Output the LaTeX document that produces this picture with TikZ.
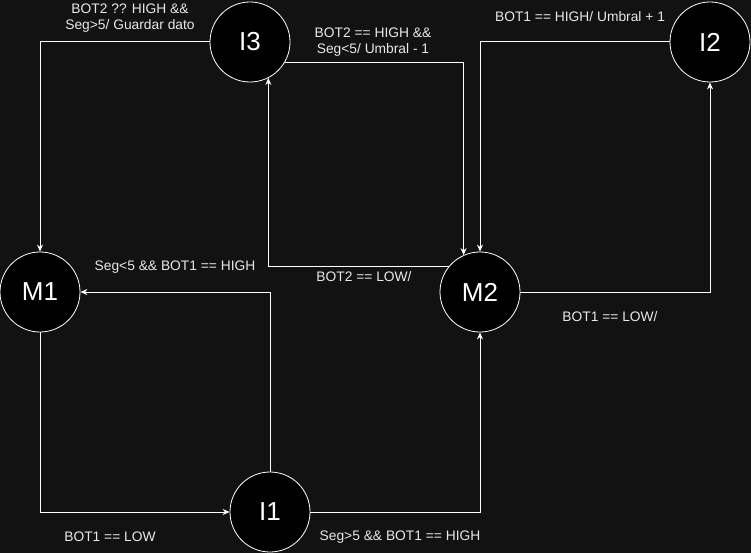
\documentclass[tikz,border=0pt]{standalone}
\usepackage{fontspec}
\setmainfont{Liberation Sans}
\usepackage{xcolor}
\usetikzlibrary{arrows.meta}

\definecolor{canvas}{RGB}{18,18,18}
\definecolor{labelgray}{RGB}{232,232,232}

\begin{document}
\begin{tikzpicture}[x=1pt, y=-1pt,
  state/.style={circle, draw=white, line width=0.8pt, fill=black,
    minimum size=80pt, inner sep=0pt, text=white,
    font=\fontsize{26}{30}\selectfont},
  %
  cond/.style={text=labelgray, align=center, inner sep=0pt,
    font=\fontsize{13.8}{16}\selectfont},
  %
  trans/.style={draw=white, line width=1pt, -{Stealth[length=7pt, width=6pt]}}
  ]

  % background and page size
  \fill [canvas] (0,0) rectangle (751,553);
  \useasboundingbox (0,0) rectangle (751,553);

  \begin{scope}
    \node [state] (I3) at (250,42) {I3};
    \node [state] (I2) at (710,42) {I2};
    \node [state] (M1) at (40,292) {M1};
    \node [state] (M2) at (480,292) {M2};
    \node [state] (I1) at (270,512) {I1};
  \end{scope}

  \begin{scope}
    \draw [trans] (I3.west) -| (M1.north);
    \draw [trans] (I3.-30) -| (M2.114);
    \draw [trans] (I2.west) -| (M2.north);
    \draw [trans] (M2.141) -| (I3.-63);
    \draw [trans] (M2.east) -| (I2.south);
    \draw [trans] (M1.south) |- (I1.west);
    \draw [trans] (I1.north) |- (M1.east);
    \draw [trans] (I1.east) -| (M2.south);
  \end{scope}

  \begin{scope}
    \node [cond] (lblGuardar) at (130,18) {BOT2 ?? HIGH \&\&\\Seg>5/ Guardar dato};
    \node [cond] (lblMenos) at (373,42) {BOT2 == HIGH \&\&\\Seg<5/ Umbral - 1};
    \node [cond] (lblMas) at (580,17) {BOT1 == HIGH/ Umbral + 1};
    \node [cond] (lblVuelveM1) at (175,267) {Seg<5 \&\& BOT1 == HIGH};
    \node [cond] (lblBotDosLow) at (364,277) {BOT2 == LOW/};
    \node [cond] (lblBotUnoLowM2) at (610,317) {BOT1 == LOW/};
    \node [cond] (lblBotUnoLowM1) at (110,537) {BOT1 == LOW};
    \node [cond] (lblVaM2) at (400,537) {Seg>5 \&\& BOT1 == HIGH};
  \end{scope}

\end{tikzpicture}
\end{document}
